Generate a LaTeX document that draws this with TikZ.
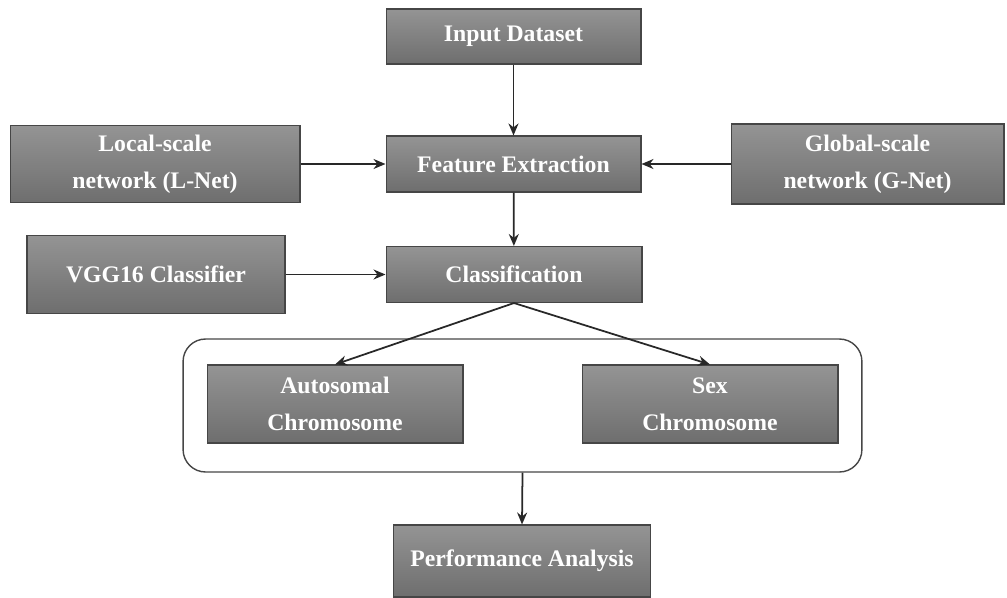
\documentclass[tikz,border=0pt]{standalone}
\usepackage{fontspec}
\setmainfont{Liberation Serif}
\usetikzlibrary{arrows.meta}
\definecolor{boxtop}{RGB}{148,148,148}
\definecolor{boxbot}{RGB}{110,110,110}
\definecolor{boxline}{RGB}{70,70,70}
\definecolor{arrline}{RGB}{40,40,40}
\begin{document}
\begin{tikzpicture}[x=0.02cm, y=-0.02cm,
    box/.style={rectangle, draw=boxline, line width=0.6pt, top color=boxtop, bottom color=boxbot,
        text=white, align=center, inner sep=0pt, font=\bfseries\fontsize{13.5}{21}\selectfont},
    grp/.style={rectangle, draw=boxline, line width=0.8pt, rounded corners=0.45cm},
    arr/.style={-{Stealth[length=2.4mm, width=2mm]}, draw=arrline, line width=1pt}]
        \useasboundingbox (0,0) rectangle (1007,598);
        \node[grp, minimum width=13.58cm, minimum height=2.66cm] (grp) at (522.5,405.5) {};
        \node[box, minimum width=5.1cm, minimum height=1.1cm] (in) at (513.5,36.5) {Input Dataset};
        \node[box, minimum width=5.1cm, minimum height=1.12cm] (fe) at (513.5,164) {Feature Extraction};
        \node[box, minimum width=5.8cm, minimum height=1.54cm] (loc) at (155,164) {Local-scale\\network (L-Net)};
        \node[box, minimum width=5.46cm, minimum height=1.6cm] (glob) at (867.5,164) {Global-scale\\network (G-Net)};
        \node[box, minimum width=5.16cm, minimum height=1.56cm] (vgg) at (156,274.5) {VGG16 Classifier};
        \node[box, minimum width=5.12cm, minimum height=1.12cm] (cls) at (514,274.5) {Classification};
        \node[box, minimum width=5.12cm, minimum height=1.56cm] (auto) at (335,404) {Autosomal\\Chromosome};
        \node[box, minimum width=5.12cm, minimum height=1.56cm] (sex) at (710,404) {Sex\\Chromosome};
        \node[box, minimum width=5.14cm, minimum height=1.44cm] (perf) at (522,561) {Performance Analysis};
        \draw[arr] (in) -- (fe);
        \draw[arr] (loc) -- (fe);
        \draw[arr] (glob) -- (fe);
        \draw[arr] (fe) -- (cls);
        \draw[arr] (vgg) -- (cls);
        \draw[arr] (cls.south) -- (auto.north);
        \draw[arr] (cls.south) -- (sex.north);
        \draw[arr] (grp.south) -- (perf.north);
    \end{tikzpicture}
\end{document}
